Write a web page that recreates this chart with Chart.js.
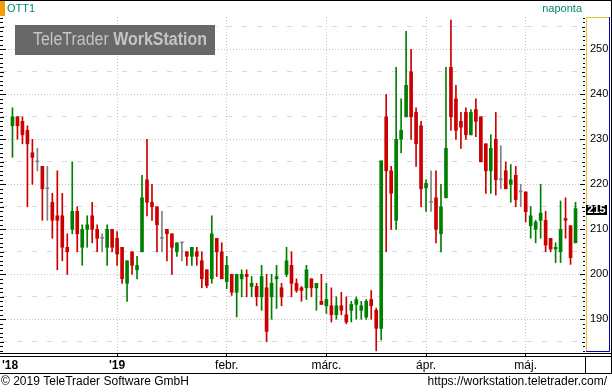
<!DOCTYPE html>
<html>
<head>
<meta charset="utf-8">
<script src="https://cdn.jsdelivr.net/npm/chart.js@4.4.1/dist/chart.umd.min.js"></script>
<style>
  html, body { margin: 0; padding: 0; background: #fff; }
  #wrap { width: 612px; height: 392px; }
</style>
</head>
<body>
<div id="wrap"><canvas id="chart" width="612" height="392"></canvas></div>
<script>
// Daily OHLC, Dec 2018 - mid May 2019
const opens = [233, 235, 234, 232, 227, 225, 224, 219, 216, 213,
  213, 206, 210, 214, 206, 210, 213, 210, 208, 206,
  210, 208, 206, 198, 205, 201, 205, 221, 216, 215,
  208, 210, 209, 205, 207, 205, 204, 205, 203, 201,
  199, 208, 205, 198.4, 200, 196, 199, 200, 197.3, 197.3,
  195, 197, 195, 199, 197, 200, 202, 198, 197, 197,
  199, 197, 194, 193, 193, 191, 193, 191, 192, 193.3,
  192, 190.5, 194.4, 192, 188, 235, 223, 212, 230, 235,
  245, 236, 233, 219.2, 216, 217, 209, 217, 246, 239,
  234, 236, 231, 236.6, 235, 229, 223, 230, 221, 223,
  220, 222, 218.3, 218.3, 210.8, 210, 212, 212, 208, 205.6,
  205, 212.4, 210.8, 207];
const highs = [237, 235, 235, 233, 230, 228, 224, 224, 218, 223,
  218, 209, 225, 215, 211, 213, 216, 211, 209, 211,
  210, 209.5, 206, 203, 205, 204, 222, 230, 220, 215,
  214, 210, 209, 207, 207, 205, 206, 206, 205, 201,
  213, 208, 207, 204, 200, 200, 201, 201, 199.5, 198,
  202, 200, 200, 202, 198, 206, 205, 199, 197.3, 202,
  199, 198, 200, 198, 197, 195, 196, 195, 194, 195,
  194, 194.4, 196.4, 192.5, 225.2, 240, 224, 246, 239, 254,
  250, 237, 234, 221, 223, 223, 220, 246, 256.5, 242,
  236, 237, 236.6, 239, 235, 229, 231, 236, 228.6, 225,
  224.4, 224, 220, 218.3, 215, 212, 220, 214, 208, 207,
  216.3, 217, 210.8, 216];
const lows = [226, 230, 229, 215, 220, 223, 212, 212, 208, 201,
  203, 200, 209, 205, 202, 206, 207, 205, 205, 202,
  205, 202, 198, 194, 200, 199, 205, 213, 212, 205,
  205, 203, 200, 204, 203, 202, 202, 202, 197, 197,
  198, 199.5, 199, 196.8, 195.3, 190.5, 195, 195, 195, 193,
  192, 185, 190, 192.4, 193, 199.5, 195, 196, 194, 194.4,
  195, 192, 193.3, 191.3, 189.4, 190, 191, 189, 189.4, 190,
  190, 190, 190, 183, 185.4, 205, 210, 210, 227, 235,
  230, 224, 215, 214, 214, 207, 205, 217, 232, 230,
  228, 230, 231, 230.6, 225, 218, 218, 217.6, 219, 219,
  216, 215, 215, 211.6, 208, 207, 208, 205, 205, 202.6,
  202.6, 208, 202.2, 207];
const closes = [235, 233, 231, 229, 226, 225, 219, 219, 212, 212,
  206, 205, 214, 209, 210, 211, 210, 208, 208, 210,
  206, 204.5, 199, 203, 202, 202, 217, 216, 215, 211,
  208, 209, 206, 207, 207, 204, 206, 204, 199, 197.5,
  209, 205, 199, 202, 196, 200, 200, 199.5, 198, 195,
  199.5, 187.3, 198, 199.5, 195, 203, 198, 196.4, 196.4, 201,
  197, 198, 193.3, 194.4, 191, 193, 192, 189.4, 193.3, 194.4,
  193, 194, 193, 188, 225.2, 223, 218, 230, 232, 242,
  235, 229, 219, 220.2, 216, 210, 215, 228, 235, 232,
  232.7, 231, 236, 234, 225, 223, 228, 221, 221, 219,
  221, 216.6, 218.3, 213.9, 213, 211.6, 213.6, 206.5, 205.6, 206,
  210, 212, 203.7, 214.6];

// Month ticks (candle index) and labels
const monthPos = [-2.1, 21, 43, 63, 83, 103];
const monthLabels = ["'18", "'19", 'febr.', 'márc.', 'ápr.', 'máj.'];

// Price axis
const priceLabels = [190, 200, 210, 220, 230, 240, 250];
const priceGrid = [185, 190, 195, 200, 205, 210, 215, 220, 225, 230, 235, 240, 245, 250, 255];

const X_MIN = -2.1, X_MAX = 114.5;
const Y_MIN = 182.51, Y_MAX = 257.18;
const FONT = "'Liberation Sans', Arial, sans-serif";

const idx = closes.map((c, i) => i);
const colors = idx.map(i => closes[i] > opens[i] ? '#008000' : (closes[i] < opens[i] ? '#cc0000' : '#808080'));

const framePlugin = {
    id: 'frame',
    afterDraw(chart) {
        const ctx = chart.ctx;
        const ys = chart.scales.y;
        const area = chart.chartArea;
        ctx.save();

        // header
        ctx.fillStyle = '#f0a000';
        ctx.fillRect(0, 0, 5, 16);
        ctx.font = '11px ' + FONT;
        ctx.fillStyle = '#008a6e';
        ctx.textBaseline = 'middle';
        ctx.textAlign = 'left';
        ctx.fillText('OTT1', 7, 9);
        ctx.textAlign = 'right';
        ctx.fillText('naponta', 582, 9);

        // watermark
        ctx.fillStyle = '#686868';
        ctx.fillRect(15, 25, 200, 30);
        ctx.font = '18px ' + FONT;
        const w1 = ctx.measureText('TeleTrader ').width;
        ctx.font = 'bold 18px ' + FONT;
        const w2 = ctx.measureText('WorkStation').width;
        const sx = 174 / (w1 + w2);
        ctx.save();
        ctx.translate(33, 40);
        ctx.scale(sx, 1);
        ctx.fillStyle = '#c4c4c4';
        ctx.textAlign = 'left';
        ctx.textBaseline = 'middle';
        ctx.font = '18px ' + FONT;
        ctx.fillText('TeleTrader ', 0, 0);
        ctx.font = 'bold 18px ' + FONT;
        ctx.fillText('WorkStation', w1, 0);
        ctx.restore();

        // small ticks on both sides of the plot
        ctx.strokeStyle = '#000';
        ctx.lineWidth = 1;
        ctx.beginPath();
        for (let v = Math.ceil(Y_MIN); v <= Math.floor(Y_MAX); v++) {
            const py = Math.round(ys.getPixelForValue(v)) + 0.5;
            const l = v % 10 === 0 ? 6 : (v % 5 === 0 ? 4 : 3);
            ctx.moveTo(0, py); ctx.lineTo(l, py);
            const r = v % 10 === 0 ? 5 : (v % 5 === 0 ? 3 : 2);
            ctx.moveTo(585 - r, py); ctx.lineTo(585, py);
        }
        ctx.stroke();

        // price axis panel
        ctx.strokeStyle = '#f0c030';
        ctx.beginPath();
        ctx.moveTo(586.5, 352); ctx.lineTo(586.5, 17.5); ctx.lineTo(610, 17.5);
        ctx.stroke();
        ctx.strokeStyle = '#0000c8';
        ctx.beginPath();
        ctx.moveTo(609.5, 17); ctx.lineTo(609.5, 351.5); ctx.lineTo(586, 351.5);
        ctx.stroke();

        // outer frame and axis strip
        ctx.strokeStyle = '#000';
        ctx.beginPath();
        ctx.moveTo(0, 0.5); ctx.lineTo(612, 0.5);
        ctx.moveTo(611.5, 0); ctx.lineTo(611.5, 374);
        ctx.moveTo(0, 353.5); ctx.lineTo(612, 353.5);
        ctx.moveTo(0, 356.5); ctx.lineTo(612, 356.5);
        ctx.moveTo(0, 373.5); ctx.lineTo(612, 373.5);
        ctx.moveTo(585.5, 356); ctx.lineTo(585.5, 374);
        ctx.stroke();

        // last value marker
        const last = closes[closes.length - 1];
        const py = ys.getPixelForValue(last);
        ctx.fillStyle = '#000';
        ctx.fillRect(586, Math.round(py) - 4, 21, 10);
        ctx.fillStyle = '#fff';
        ctx.font = 'bold 11px ' + FONT;
        ctx.textAlign = 'center';
        ctx.textBaseline = 'middle';
        ctx.fillText(String(Math.round(last)), 596.5, Math.round(py) + 1);

        // footer
        ctx.fillStyle = '#000';
        ctx.font = '12px ' + FONT;
        ctx.textAlign = 'left';
        ctx.fillText('\u00a9 2019 TeleTrader Software GmbH', 1, 382);
        ctx.textAlign = 'right';
        ctx.fillText('https://workstation.teletrader.com/', 607, 382);

        ctx.restore();
    }
};

new Chart(document.getElementById('chart'), {
    type: 'bar',
    data: {
        datasets: [{
            label: 'body',
            data: idx.map(i => ({ x: i, y: [Math.min(opens[i], closes[i]), Math.max(opens[i], closes[i])] })),
            backgroundColor: colors,
            borderWidth: 0,
            barThickness: 3,
            minBarLength: 1,
            grouped: false,
            order: 0
        }, {
            label: 'wick',
            data: idx.map(i => ({ x: i, y: [lows[i], highs[i]] })),
            backgroundColor: colors,
            borderWidth: 0,
            barThickness: 1,
            grouped: false,
            order: 1
        }]
    },
    options: {
        responsive: false,
        devicePixelRatio: 1,
        animation: false,
        layout: { padding: { top: 17, bottom: 19, left: 0, right: 0 } },
        plugins: { legend: { display: false }, tooltip: { enabled: false } },
        scales: {
            x: {
                type: 'linear',
                min: X_MIN,
                max: X_MAX,
                offset: false,
                afterBuildTicks: s => { s.ticks = monthPos.map(v => ({ value: v })).concat([{ value: X_MAX }]); },
                afterFit: s => { s.height = 20; },
                grid: {
                    offset: false,
                    color: c => (c.index > 0 && c.index < monthPos.length) ? '#c4c4c4' : 'rgba(0,0,0,0)',
                    tickColor: c => (c.index > 0 && c.index < monthPos.length) ? '#000' : 'rgba(0,0,0,0)',
                    tickLength: 3,
                    tickBorderDash: []
                },
                border: { display: false, dash: [1, 2] },
                ticks: {
                    align: 'inner',
                    autoSkip: false,
                    maxRotation: 0,
                    padding: 2,
                    color: '#000',
                    font: c => ({ family: FONT, size: 12, weight: (c.index < 2 ? 'bold' : 'normal') }),
                    callback: (v, i) => monthLabels[i] || ''
                }
            },
            y: {
                type: 'linear',
                position: 'right',
                min: Y_MIN,
                max: Y_MAX,
                afterBuildTicks: s => { s.ticks = priceGrid.map(v => ({ value: v })); },
                afterFit: s => { s.width = 29; },
                grid: {
                    color: c => (c.tick && c.tick.value % 10 === 0) ? '#c4c4c4' : '#d9d9d9',
                    drawTicks: false
                },
                border: {
                    display: false,
                    dash: c => (c.tick && c.tick.value % 10 !== 0) ? [5, 10] : [1, 2]
                },
                ticks: {
                    padding: 7,
                    color: '#000',
                    font: { family: FONT, size: 11 },
                    callback: v => priceLabels.includes(v) ? String(v) : ''
                }
            }
        }
    },
    plugins: [framePlugin]
});
</script>
</body>
</html>
